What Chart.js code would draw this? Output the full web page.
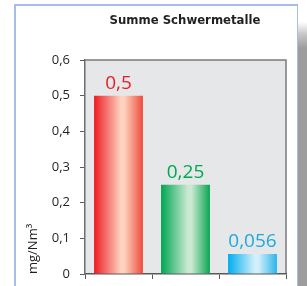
<!DOCTYPE html>
<html lang="de">
<head>
  <meta charset="UTF-8">
  <title>Summe Schwermetalle</title>
  <script src="https://cdn.jsdelivr.net/npm/chart.js"></script>
  <style>
    html, body { margin: 0; padding: 0; background: #fff; }
    #wrap { position: relative; width: 307px; height: 286px; overflow: hidden; }
    #frame { position: absolute; left: 14px; top: 4px; width: 281px; height: 300px; border: 2px solid #a9bbe8; background: #fff; }
    #shadow { position: absolute; left: 298px; top: 0; width: 9px; height: 286px;
      background: linear-gradient(to bottom, #fff 0px, #fff 22px, #c8c8c8 34px, #9d9d9d 48px, #9d9d9d 286px); }
    canvas { position: absolute; left: 0; top: 0; }
  </style>
</head>
<body>
  <div id="wrap">
    <div id="frame"></div>
    <div id="shadow"></div>
    <canvas id="chart" width="307" height="286"></canvas>
  </div>

  <script>
    const title = "Summe Schwermetalle";
    const yTitle = "mg/Nm³";
    const categories = ["A", "B", "C"];
    const values = [0.5, 0.25, 0.056];
    const valueLabels = ["0,5", "0,25", "0,056"];
    const yTicks = [0, 0.1, 0.2, 0.3, 0.4, 0.5, 0.6];

    // edge, highlight, right edge for each bar
    const barColors = [
      ["#ed1c24", "#fdd3bf", "#ef4b3a"],
      ["#00a651", "#cbe9d2", "#0aa653"],
      ["#00aeef", "#d4effb", "#29b5ec"]
    ];
    const labelColors = ["#ed1c24", "#00a651", "#1ba9e1"];

    function barGradient(ctx) {
      const chart = ctx.chart;
      const i = ctx.dataIndex;
      const c = barColors[i];
      const xs = chart.scales && chart.scales.x;
      if (!chart.chartArea || !xs) return c[0];
      const cx = xs.getPixelForValue(i);
      const w = (chart.chartArea.right - chart.chartArea.left) / categories.length * 0.73;
      const g = chart.ctx.createLinearGradient(cx - w / 2, 0, cx + w / 2, 0);
      g.addColorStop(0, c[0]);
      g.addColorStop(0.55, c[1]);
      g.addColorStop(0.62, c[1]);
      g.addColorStop(1, c[2]);
      return g;
    }

    const plotBox = {
      id: "plotBox",
      beforeDraw(chart) {
        const a = chart.chartArea, ctx = chart.ctx;
        ctx.save();
        ctx.fillStyle = "#e6e7e8";
        ctx.fillRect(a.left, a.top, a.right - a.left, a.bottom - a.top);
        ctx.strokeStyle = "#7a7b7d";
        ctx.lineWidth = 1.5;
        ctx.beginPath();
        ctx.moveTo(a.left, a.top);
        ctx.lineTo(a.right, a.top);
        ctx.lineTo(a.right, a.bottom);
        ctx.stroke();
        ctx.restore();
      },
      afterDraw(chart) {
        const ctx = chart.ctx;
        ctx.save();
        ctx.fillStyle = "#231f20";
        ctx.font = "bold 13px 'DejaVu Sans Condensed', 'DejaVu Sans'";
        ctx.textAlign = "center";
        ctx.textBaseline = "middle";
        ctx.fillText(title, 185, 21);
        // value labels above bars
        const meta = chart.getDatasetMeta(0);
        ctx.font = "19px 'Open Sans'";
        ctx.textBaseline = "bottom";
        meta.data.forEach((bar, i) => {
          ctx.fillStyle = labelColors[i];
          ctx.fillText(valueLabels[i], bar.x, bar.y - 3);
        });
        ctx.restore();
      }
    };

    new Chart(document.getElementById("chart"), {
      type: "bar",
      data: {
        labels: categories,
        datasets: [{
          data: values,
          backgroundColor: barGradient,
          borderWidth: 0,
          categoryPercentage: 1,
          barPercentage: 0.73
        }]
      },
      options: {
        responsive: false,
        animation: false,
        events: [],
        layout: { padding: { top: 60, right: 21, left: 0, bottom: 0 } },
        plugins: { legend: { display: false }, title: { display: false }, tooltip: { enabled: false } },
        scales: {
          x: {
            afterFit: s => { s.height = 12; },
            ticks: { display: false },
            grid: { drawOnChartArea: false, tickLength: 5, color: "#58595b", lineWidth: 1 },
            border: { color: "#58595b", width: 1.5 }
          },
          y: {
            min: 0,
            max: 0.6,
            afterFit: s => { s.width = 85; s.paddingBottom = 6; },
            afterBuildTicks: s => { s.ticks = yTicks.map(v => ({ value: v })); },
            ticks: {
              padding: 10,
              color: "#231f20",
              font: { family: "'Open Sans'", size: 13 },
              callback: v => v === 0 ? "0" : v.toFixed(1).replace(".", ",")
            },
            grid: { drawOnChartArea: false, tickLength: 5, color: "#58595b", lineWidth: 1 },
            border: { color: "#6d6e71", width: 1.5 },
            title: {
              display: true,
              text: yTitle,
              align: "start",
              color: "#231f20",
              font: { family: "'Open Sans'", size: 13 },
              padding: { top: 25, bottom: 0 }
            }
          }
        }
      },
      plugins: [plotBox]
    });
  </script>
</body>
</html>
